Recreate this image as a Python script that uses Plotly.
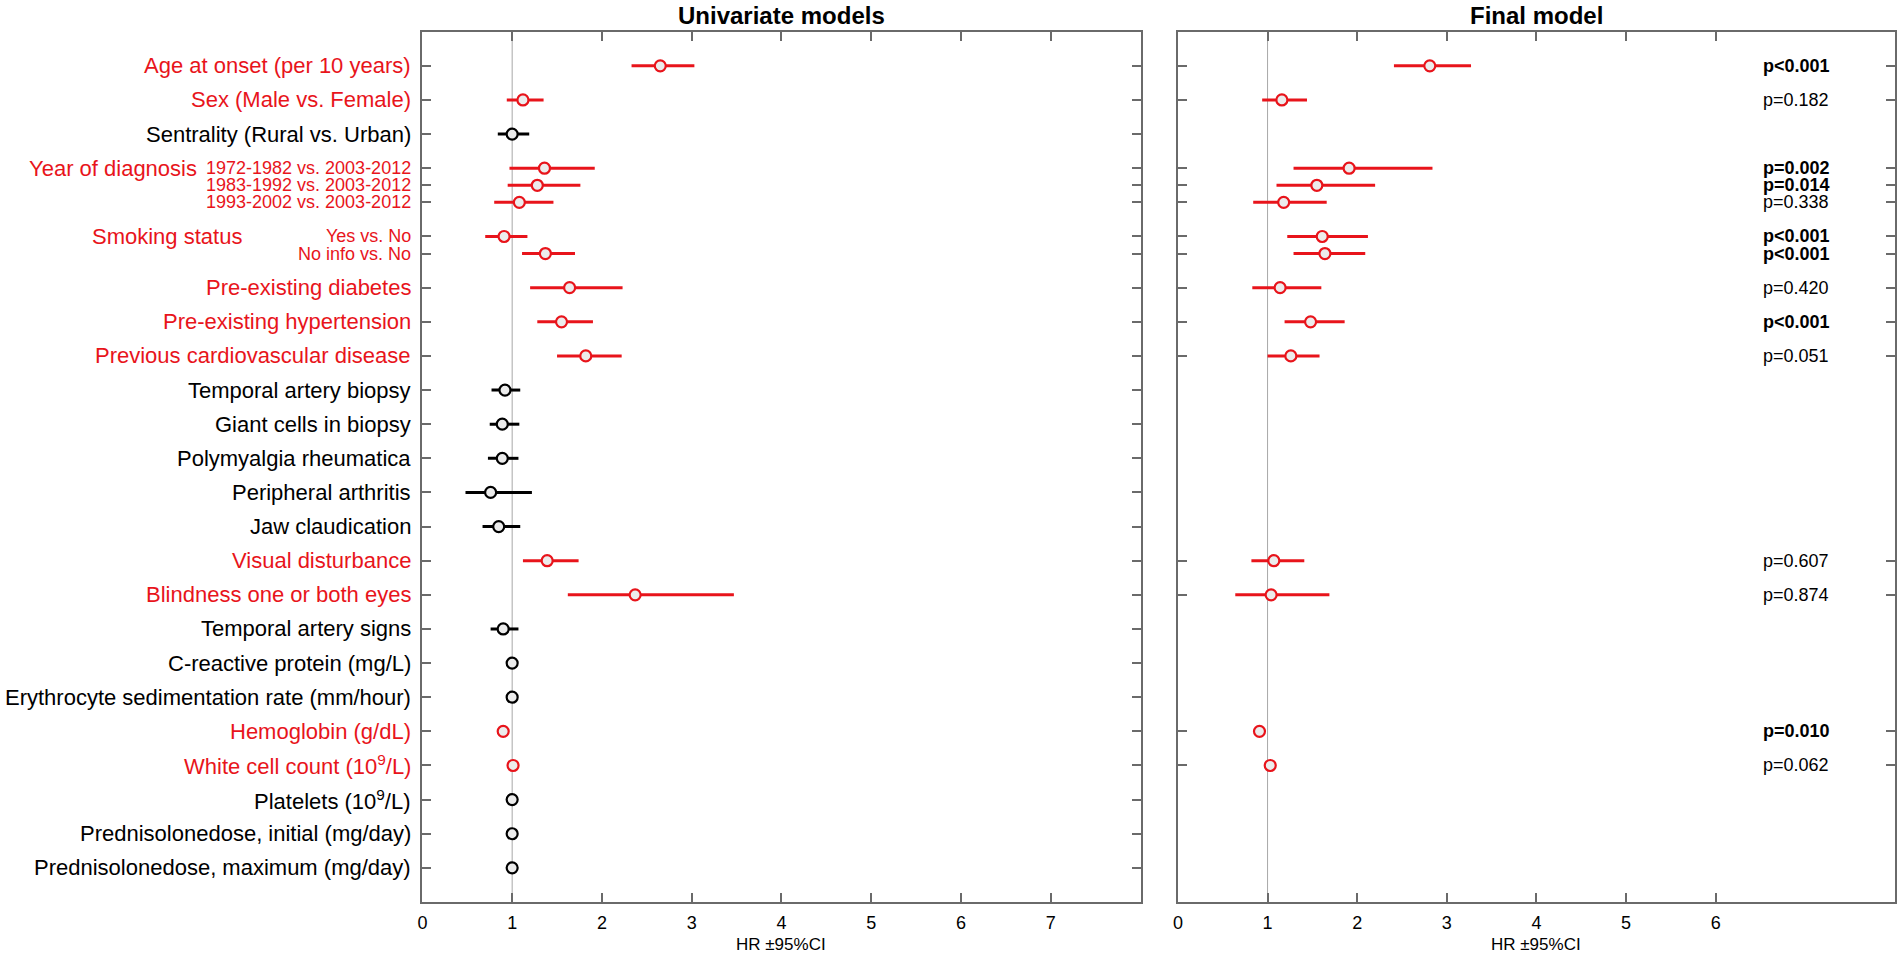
import plotly.graph_objects as go

# ---------------- data ----------------
row_labels = [
    "Age at onset (per 10 years)", "Sex (Male vs. Female)", "Sentrality (Rural vs. Urban)",
    "1972-1982 vs. 2003-2012", "1983-1992 vs. 2003-2012", "1993-2002 vs. 2003-2012",
    "Yes vs. No", "No info vs. No",
    "Pre-existing diabetes", "Pre-existing hypertension", "Previous cardiovascular disease",
    "Temporal artery biopsy", "Giant cells in biopsy", "Polymyalgia rheumatica",
    "Peripheral arthritis", "Jaw claudication", "Visual disturbance",
    "Blindness one or both eyes", "Temporal artery signs", "C-reactive protein (mg/L)",
    "Erythrocyte sedimentation rate (mm/hour)", "Hemoglobin (g/dL)",
    "White cell count (10<sup>9</sup>/L)", "Platelets (10<sup>9</sup>/L)",
    "Prednisolonedose, initial (mg/day)", "Prednisolonedose, maximum (mg/day)",
]
row_groups = [None, None, None, "Year of diagnosis", "Year of diagnosis", "Year of diagnosis",
              "Smoking status", "Smoking status"] + [None] * 18
row_significant = [True, True, False, True, True, True, True, True, True, True, True,
                   False, False, False, False, False, True, True, False, False, False,
                   True, True, False, False, False]

uni_hr = [2.65, 1.12, 1.00, 1.36, 1.28, 1.08, 0.91, 1.37, 1.64, 1.55, 1.82,
          0.92, 0.89, 0.89, 0.76, 0.85, 1.39, 2.37, 0.90, 1.00, 1.00, 0.90, 1.01, 1.00, 1.00, 1.00]
uni_lo = [2.33, 0.94, 0.84, 0.97, 0.95, 0.80, 0.70, 1.11, 1.20, 1.28, 1.50,
          0.77, 0.75, 0.73, 0.48, 0.67, 1.12, 1.62, 0.76, 0.99, 0.99, 0.87, 0.99, 0.99, 0.99, 0.99]
uni_hi = [3.03, 1.35, 1.19, 1.92, 1.76, 1.46, 1.17, 1.70, 2.23, 1.90, 2.22,
          1.09, 1.08, 1.07, 1.22, 1.09, 1.74, 3.47, 1.07, 1.01, 1.01, 0.93, 1.03, 1.01, 1.01, 1.01]

# final model (None = not in final model)
fin_hr = [2.81, 1.16, None, 1.91, 1.55, 1.18, 1.61, 1.64, 1.14, 1.48, 1.26,
          None, None, None, None, None, 1.07, 1.04, None, None, None, 0.91, 1.03, None, None, None]
fin_lo = [2.41, 0.94, None, 1.29, 1.10, 0.84, 1.22, 1.29, 0.83, 1.19, 1.00,
          None, None, None, None, None, 0.82, 0.64, None, None, None, 0.88, 1.00, None, None, None]
fin_hi = [3.27, 1.44, None, 2.84, 2.20, 1.66, 2.12, 2.09, 1.60, 1.86, 1.58,
          None, None, None, None, None, 1.41, 1.69, None, None, None, 0.94, 1.06, None, None, None]
fin_p = ["p<0.001", "p=0.182", None, "p=0.002", "p=0.014", "p=0.338", "p<0.001", "p<0.001",
         "p=0.420", "p<0.001", "p=0.051", None, None, None, None, None, "p=0.607", "p=0.874",
         None, None, None, "p=0.010", "p=0.062", None, None, None]
fin_p_bold = [True, False, None, True, True, False, True, True, False, True, False,
              None, None, None, None, None, False, False, None, None, None, True, False, None, None, None]

left_ticks = [0, 1, 2, 3, 4, 5, 6, 7]
right_ticks = [0, 1, 2, 3, 4, 5, 6]

# ---------------- styling ----------------
RED = "#e8141b"
BLACK = "#000000"
AXC = "#6a6a6a"
FONT = "Arial, Liberation Sans, sans-serif"
W, H = 1902, 959

# row positions: sub-rows within the same group are half spaced
ys = []
prev = "__start__"
for g in row_groups:
    if not ys:
        ys.append(0.0)
    elif g is not None and g == prev:
        ys.append(ys[-1] + 0.5)
    else:
        ys.append(ys[-1] + 1.0)
    prev = g

fig = go.Figure()


def add_points(xref, yref, hr, lo, hi, color):
    idx = [i for i in range(len(hr)) if hr[i] is not None]
    if not idx:
        return
    fig.add_trace(go.Scatter(
        x=[hr[i] for i in idx], y=[ys[i] for i in idx], xaxis=xref, yaxis=yref,
        mode="markers",
        marker=dict(symbol="circle", size=11, color="#ececec", line=dict(color=color, width=2.2)),
        error_x=dict(type="data", symmetric=False,
                     array=[hi[i] - hr[i] for i in idx],
                     arrayminus=[hr[i] - lo[i] for i in idx],
                     color=color, thickness=3, width=0),
        showlegend=False, hoverinfo="skip",
    ))


for sig, col in [(True, RED), (False, BLACK)]:
    sel = [s == sig for s in row_significant]
    add_points("x", "y",
               [v if s else None for v, s in zip(uni_hr, sel)],
               [v if s else None for v, s in zip(uni_lo, sel)],
               [v if s else None for v, s in zip(uni_hi, sel)], col)

add_points("x2", "y2", fin_hr, fin_lo, fin_hi, RED)

# reference lines at HR = 1
for xr, yr in [("x", "y"), ("x2", "y2")]:
    fig.add_shape(type="line", xref=xr, yref=yr + " domain", x0=1, x1=1, y0=0, y1=1,
                  line=dict(color="#a8a8a8", width=1), layer="below")

annotations = []
# row labels
for i, lab in enumerate(row_labels):
    col = RED if row_significant[i] else BLACK
    size = 18 if row_groups[i] is not None else 22
    annotations.append(dict(text=lab, x=0, y=ys[i], xref="x", yref="y", xanchor="right",
                            yanchor="middle", xshift=-9, showarrow=False,
                            font=dict(family=FONT, size=size, color=col)))
# group labels
group_right = {"Year of diagnosis": 195, "Smoking status": 240}
seen = set()
for i, g in enumerate(row_groups):
    if g is not None and g not in seen:
        seen.add(g)
        annotations.append(dict(text=g, x=group_right[g] / W, y=ys[i], xref="paper", yref="y",
                                xanchor="right", yanchor="middle", showarrow=False,
                                font=dict(family=FONT, size=22, color=RED)))
# p-values
for i, p in enumerate(fin_p):
    if p is None:
        continue
    txt = f"<b>{p}</b>" if fin_p_bold[i] else p
    annotations.append(dict(text=txt, x=6.5, y=ys[i], xref="x2", yref="y2", xanchor="left",
                            yanchor="middle", showarrow=False,
                            font=dict(family=FONT, size=18, color="#000")))
# titles
for txt, xr in [("Univariate models", "x"), ("Final model", "x2")]:
    annotations.append(dict(text=f"<b>{txt}</b>", x=0.5, y=1 - 16 / H, xref=xr + " domain",
                            yref="paper", xanchor="center", yanchor="middle", showarrow=False,
                            font=dict(family=FONT, size=24, color="#000")))
    annotations.append(dict(text="HR ±95%CI", x=0.5, y=1 - 944 / H, xref=xr + " domain",
                            yref="paper", xanchor="center", yanchor="middle", showarrow=False,
                            font=dict(family=FONT, size=17, color="#000")))

xdom_l = [418.5 / W, 1138.5 / W]
xdom_r = [1176 / W, 1895 / W]
ydom = [1 - 902 / H, 1 - 31.7 / H]
yrange = [max(ys) + 1.0, -1.0]

axis_common = dict(showline=True, linecolor=AXC, linewidth=2, mirror="allticks",
                   ticks="inside", ticklen=9, tickwidth=1.5, tickcolor=AXC,
                   showgrid=False, zeroline=False)

fig.update_layout(
    width=W, height=H, paper_bgcolor="white", plot_bgcolor="white",
    margin=dict(l=0, r=0, t=0, b=0),
    font=dict(family=FONT, color="#000"),
    xaxis=dict(domain=xdom_l, range=[0, 8], tickvals=left_ticks, anchor="y",
               tickfont=dict(size=18, family=FONT, color="#000"), ticklabelstandoff=3,
               **axis_common),
    yaxis=dict(domain=ydom, range=yrange, anchor="x", tickvals=ys, showticklabels=False,
               **axis_common),
    xaxis2=dict(domain=xdom_r, range=[0, 8], tickvals=right_ticks, anchor="y2",
                tickfont=dict(size=18, family=FONT, color="#000"), ticklabelstandoff=3,
                **axis_common),
    yaxis2=dict(domain=ydom, range=yrange, anchor="x2",
                tickvals=[ys[i] for i in range(len(ys)) if fin_hr[i] is not None],
                showticklabels=False, **axis_common),
    annotations=annotations,
)

fig.write_html(
    "out.html",
    config={"displayModeBar": False},
    post_script="document.body.style.margin='0px';document.body.style.overflow='hidden';",
)
